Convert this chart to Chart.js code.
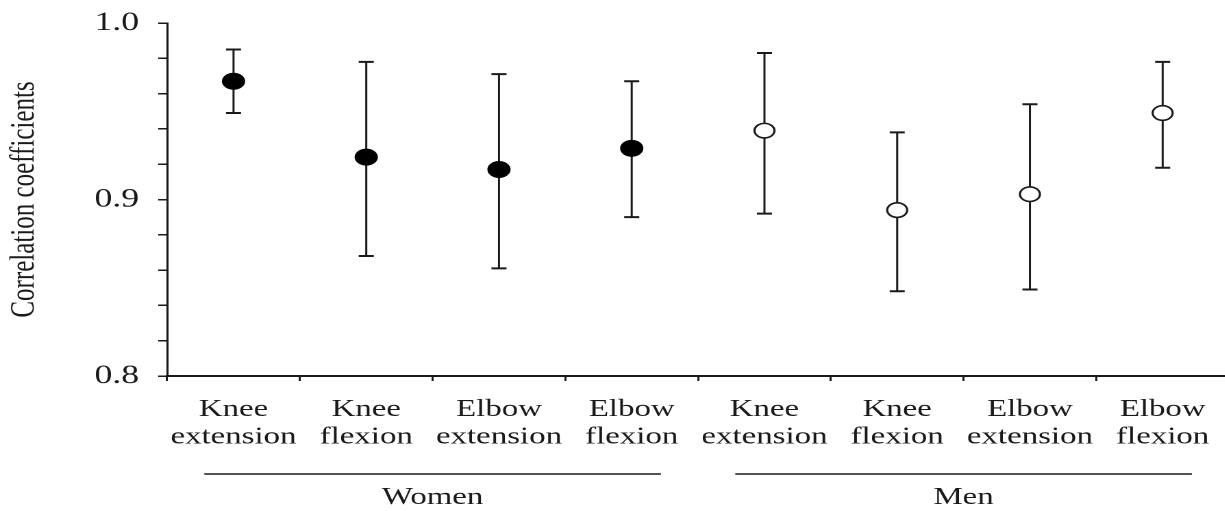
<!DOCTYPE html>
<html>
<head>
<meta charset="utf-8">
<script src="https://cdn.jsdelivr.net/npm/chart.js@4/dist/chart.umd.min.js"></script>
<style>
  html, body { margin: 0; padding: 0; background: #fff; overflow: hidden; width: 1225px; height: 511px; }
  #wrap { width: 906px; height: 511px; transform: scaleX(1.37); transform-origin: 0 0; }
  canvas { display: block; }
</style>
</head>
<body>
<div id="wrap"><canvas id="c" width="906" height="511"></canvas></div>
<script>
// ---- data ----
const movements = [['Knee', 'extension'], ['Knee', 'flexion'], ['Elbow', 'extension'], ['Elbow', 'flexion']];
const groups = ['Women', 'Men'];
const categories = movements.concat(movements);

const womenMean = [0.967, 0.924, 0.917, 0.929];
const womenLow  = [0.949, 0.868, 0.861, 0.890];
const womenHigh = [0.985, 0.978, 0.971, 0.967];

const menMean = [0.939, 0.894, 0.903, 0.949];
const menLow  = [0.892, 0.848, 0.849, 0.918];
const menHigh = [0.983, 0.938, 0.954, 0.978];

const yMin = 0.8, yMax = 1.0, yStep = 0.02;
const yTitle = 'Correlation coefficients';

const pad = [null, null, null, null];
const INK = '#1a1a1a';
Chart.defaults.font.family = "'Liberation Serif', 'Times New Roman', serif";
Chart.defaults.color = INK;

const errorBars = {
  id: 'errorBars',
  beforeDatasetsDraw(chart) {
    const { ctx, scales: { x, y } } = chart;
    ctx.save();
    ctx.strokeStyle = INK;
    chart.data.datasets.forEach(ds => {
      ds.errLow.forEach((lo, i) => {
        const hi = ds.errHigh[i];
        if (lo == null || hi == null) return;
        const px = x.getPixelForValue(i);
        const yl = y.getPixelForValue(lo), yh = y.getPixelForValue(hi);
        ctx.lineWidth = 1.5;
        ctx.beginPath(); ctx.moveTo(px, yl); ctx.lineTo(px, yh); ctx.stroke();
        ctx.lineWidth = 2;
        ctx.beginPath();
        ctx.moveTo(px - 5.5, yl); ctx.lineTo(px + 5.5, yl);
        ctx.moveTo(px - 5.5, yh); ctx.lineTo(px + 5.5, yh);
        ctx.stroke();
      });
    });
    ctx.restore();
  }
};

const groupLines = {
  id: 'groupLines',
  afterDraw(chart) {
    const { ctx, scales: { x, x2 } } = chart;
    const cw = x.getPixelForValue(1) - x.getPixelForValue(0);
    const per = categories.length / groups.length;
    ctx.save();
    ctx.strokeStyle = INK;
    ctx.lineWidth = 1.5;
    groups.forEach((g, gi) => {
      const a = x.getPixelForValue(gi * per) - cw / 2 + 0.28 * cw;
      const b = x.getPixelForValue(gi * per + per - 1) + cw / 2 - 0.28 * cw;
      const yy = x2.top + 8;
      ctx.beginPath(); ctx.moveTo(a, yy); ctx.lineTo(b, yy); ctx.stroke();
    });
    ctx.restore();
  }
};

new Chart(document.getElementById('c'), {
  type: 'line',
  data: {
    labels: categories,
    datasets: [
      {
        label: groups[0],
        data: womenMean.concat(pad),
        errLow: womenLow.concat(pad),
        errHigh: womenHigh.concat(pad),
        showLine: false,
        pointRadius: 8.5,
        pointBackgroundColor: '#000',
        pointBorderColor: '#000',
        pointBorderWidth: 0
      },
      {
        label: groups[1],
        data: pad.concat(menMean),
        errLow: pad.concat(menLow),
        errHigh: pad.concat(menHigh),
        showLine: false,
        pointRadius: 7.3,
        pointBackgroundColor: '#fff',
        pointBorderColor: INK,
        pointBorderWidth: 1.6
      }
    ]
  },
  options: {
    responsive: false,
    animation: false,
    devicePixelRatio: 2,
    layout: { padding: { top: 23, right: 5, left: 0, bottom: 0 } },
    plugins: { legend: { display: false }, tooltip: { enabled: false } },
    scales: {
      x: {
        type: 'category',
        offset: true,
        grid: { offset: true, drawOnChartArea: false, drawTicks: true, tickLength: 5, color: INK, lineWidth: 1.5 },
        border: { display: true, color: INK, width: 2 },
        ticks: { font: { size: 24, lineHeight: 1.15 }, padding: 15, maxRotation: 0, autoSkip: false, color: INK },
        afterFit(s) { s.height = 90; }
      },
      x2: {
        type: 'category',
        position: 'bottom',
        labels: groups,
        offset: true,
        grid: { display: false, drawTicks: false },
        border: { display: false },
        ticks: { font: { size: 24, lineHeight: 1.15 }, padding: 18, maxRotation: 0, color: INK },
        afterFit(s) { s.height = 45; }
      },
      y: {
        min: yMin,
        max: yMax,
        grid: { drawOnChartArea: false, drawTicks: true, tickLength: 6.5, color: INK, lineWidth: 1.5 },
        border: { display: true, color: INK, width: 1.5 },
        ticks: {
          stepSize: yStep,
          padding: 14,
          font: { size: 26, lineHeight: 0.6 },
          color: INK,
          callback(v) {
            const t = v * 10;
            return Math.abs(t - Math.round(t)) < 1e-6 ? v.toFixed(1) : '';
          }
        },
        title: { display: true, text: yTitle, font: { size: 25, lineHeight: 1.2 }, padding: { top: 3, bottom: 0 }, color: INK },
        afterFit(s) { s.width = 122; }
      }
    }
  },
  plugins: [errorBars, groupLines]
});
</script>
</body>
</html>
